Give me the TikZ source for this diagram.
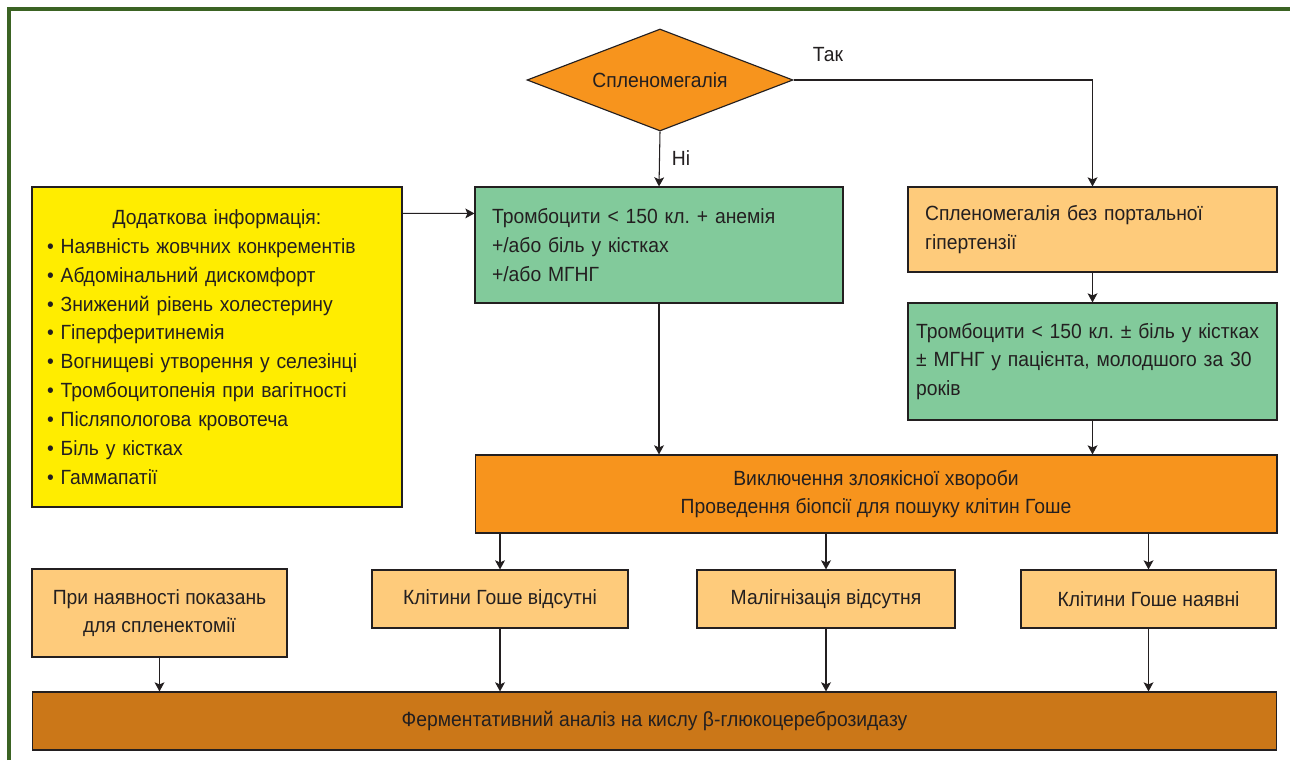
\documentclass[tikz,border=0pt]{standalone}
\usepackage{fontspec}
\setmainfont{Liberation Sans}[FakeStretch=0.94]
\usepackage{tikz}
\usetikzlibrary{arrows.meta,shapes.geometric}
\definecolor{gframe}{HTML}{3B6323}
\definecolor{gorange}{HTML}{F7941D}
\definecolor{ggreen}{HTML}{82CA9B}
\definecolor{gyellow}{HTML}{FFED00}
\definecolor{glight}{HTML}{FECB7B}
\definecolor{gbrown}{HTML}{CB7718}
\definecolor{gline}{HTML}{231F20}
\newcommand\boxfont{\fontsize{11.7}{16.4}\selectfont}
\frenchspacing
\tikzset{
  box/.style={draw=gline,line width=0.65pt,inner sep=0pt,font=\boxfont,text=gline},
  greenb/.style={box,fill=ggreen,align=left,inner xsep=0.34cm},
  lightb/.style={box,fill=glight,align=center,minimum width=5.12cm,minimum height=1.16cm},
  diam/.style={diamond,aspect=2.6,draw=gline,line width=0.65pt,fill=gorange,inner sep=0pt,minimum width=5.32cm,minimum height=2.04cm,font=\boxfont,text=gline},
  arr/.style={-{Stealth[length=5.2pt,width=5.6pt,inset=1.2pt]},line width=0.6pt,draw=gline},
  lbl/.style={font=\boxfont,text=gline,inner sep=0pt},
}
\begin{document}
\begin{tikzpicture}[x=0.02cm,y=-0.02cm]
  \fill[white] (0,0) rectangle (1290,760);
  \useasboundingbox (0,0) rectangle (1290,760);
  \draw[gframe,line width=1.8pt] (9,760) -- (9,9) -- (1290,9);

  % top: decision
  \node[diam] (dia) at (660,80) {Спленомегалія};
  \node[lbl] (yes) at (828,55) {Так};
  \node[lbl] (no) at (681,158) {Ні};

  % second level
  \node[box,fill=gyellow,align=left,text width=6.8cm,inner xsep=0.3cm,minimum height=6.4cm] (info) at (217,347) {%
    \makebox[\linewidth][c]{Додаткова інформація:}\\
    • Наявність жовчних конкрементів\\
    • Абдомінальний дискомфорт\\
    • Знижений рівень холестерину\\
    • Гіперферитинемія\\
    • Вогнищеві утворення у селезінці\\
    • Тромбоцитопенія при вагітності\\
    • Післяпологова кровотеча\\
    • Біль у кістках\\
    • Гаммапатії};
  \node[greenb,text width=6.68cm,minimum height=2.32cm] (plt) at (659,245) {Тромбоцити < 150 кл. + анемія\\
    +/або біль у кістках\\
    +/або МГНГ};
  \node[box,fill=glight,align=left,text width=6.7cm,inner xsep=0.34cm,minimum height=1.7cm] (spl) at (1092.5,229.5) {Спленомегалія без портальної\\
    гіпертензії};
  \node[greenb,text width=7.06cm,inner xsep=0.16cm,minimum height=2.34cm] (plt2) at (1092.5,361.5) {Тромбоцити < 150 кл. ± біль у кістках\\
    ± МГНГ у пацієнта, молодшого за 30\\
    років};

  % biopsy
  \node[box,fill=gorange,align=center,minimum width=16.04cm,minimum height=1.56cm] (exc) at (876,494) {Виключення злоякісної хвороби\\
    Проведення біопсії для пошуку клітин Гоше};

  % results
  \node[lightb,minimum width=5.1cm,minimum height=1.76cm] (spx) at (159.5,613) {При наявності показань\\
    для спленектомії};
  \node[lightb] (abs) at (500,599) {Клітини Гоше відсутні};
  \node[lightb,minimum width=5.16cm] (mal) at (826,599) {Малігнізація відсутня};
  \node[lightb,minimum width=5.1cm] (pres) at (1148.5,599) {Клітини Гоше наявні};

  % final
  \node[box,fill=gbrown,align=center,minimum width=24.9cm,minimum height=1.16cm] (enz) at (654.5,721) {Ферментативний аналіз на кислу β-глюкоцереброзидазу};

  % connectors
  \draw[arr] (dia.south) -- (plt.north);
  \draw[arr] (dia.east) -| (spl.north);
  \draw[arr] ([yshift=-0.54cm]info.north east) -- ([yshift=-0.54cm]plt.north west);
  \draw[arr] (spl.south) -- (plt2.north);
  \draw[arr] (plt.south) -- (plt.south |- exc.north);
  \draw[arr] (plt2.south) -- (plt2.south |- exc.north);
  \foreach \n in {abs,mal,pres}
    \draw[arr] (\n.north |- exc.south) -- (\n.north);
  \foreach \n in {spx,abs,mal,pres}
    \draw[arr] (\n.south) -- (\n.south |- enz.north);
\end{tikzpicture}
\end{document}
